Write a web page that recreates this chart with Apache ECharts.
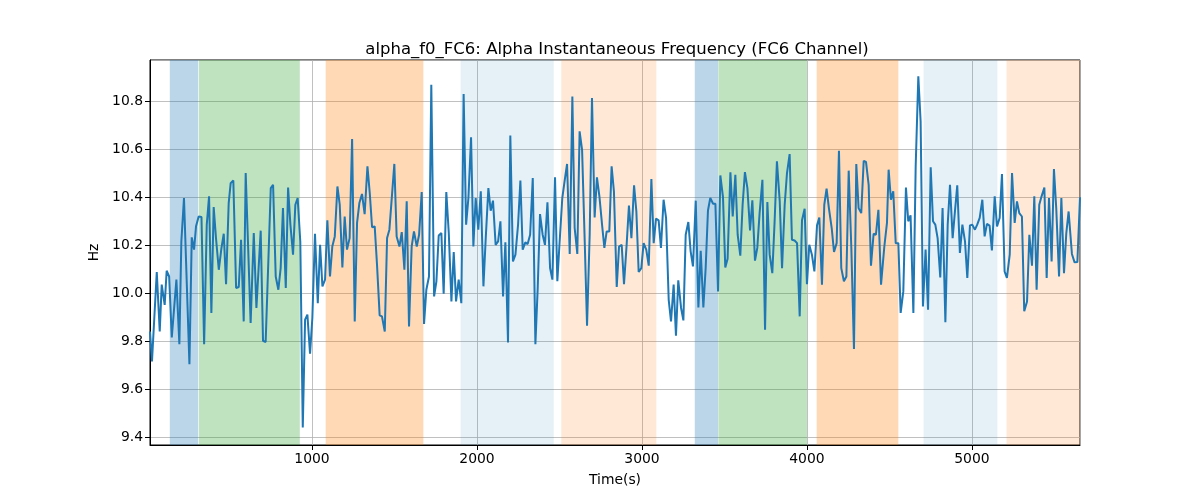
<!DOCTYPE html>
<html>
<head>
<meta charset="utf-8">
<script src="https://cdn.jsdelivr.net/npm/echarts@6/dist/echarts.min.js"></script>
<style>html,body{margin:0;padding:0;background:#fff;}#chart{width:1200px;height:500px;}</style>
</head>
<body>
<div id="chart"></div>
<script>
const times = [18,30,59,77,89,107,119,134,150,178,196,208,224,257,271,285,297,313,330,346,362,376,390,404,418,435,451,465,479,495,507,523,540,556,570,586,598,628,
647,663,689,703,719,750,764,780,796,810,824,841,855,869,885,899,913,929,944,958,972,988,1002,1018,1035,1049,1063,1079,1093,1109,1123,1138,1154,1168,1184,1198,1212,1228,1243,1259,
1273,1287,1303,1319,1336,1350,1364,1380,1394,1410,1424,1441,1455,1469,1485,1499,1513,1530,1544,1560,1574,1588,1604,1618,1635,1649,1665,1679,1693,1709,1723,1740,1754,1768,1784,1798,1814,1829,1845,1859,1873,1889,1905,
1919,1934,1948,1964,1978,1992,2008,2023,2039,2053,2069,2083,2097,2113,2128,2142,2158,2172,2188,2202,2218,2233,2249,2263,2277,2293,2307,2322,2338,2354,2368,2382,2398,2412,2427,2443,2457,2473,2487,2501,2517,2532,2546,
2562,2578,2592,2608,2622,2637,2653,2667,2683,2697,2713,2727,2742,2758,2772,2786,2802,2816,2830,2847,2861,2877,2891,2907,2921,2936,2952,2966,2980,2996,3010,3026,3041,3057,3071,3085,3101,3115,3131,3146,3162,3176,
3192,3206,3220,3237,3251,3265,3281,3295,3309,3326,3342,3356,3372,3386,3400,3414,3431,3445,3461,3475,3491,3505,3519,3536,3550,3566,3580,3596,3610,3624,3639,3655,3669,3685,3699,3713,3730,3746,3760,3774,3790,3804,3818,
3835,3849,3865,3879,3895,3909,3925,3940,3956,3970,3986,4000,4014,4030,4045,4061,4075,4091,4105,4119,4133,4150,4164,4180,4194,4208,4224,4239,4253,4269,4285,4299,4313,4329,4344,4358,4374,4388,4404,4418,4433,4449,
4469,4485,4495,4509,4523,4538,4554,4568,4584,4600,4614,4628,4645,4659,4675,4689,4703,4719,4734,4750,4764,4778,4792,4808,4822,4839,4853,4867,4883,4897,4911,4927,4942,4958,4972,4988,5002,5018,5032,5047,5063,5077,5091,
5107,5121,5138,5152,5168,5182,5198,5212,5229,5243,5259,5273,5287,5303,5317,5334,5348,5364,5378,5392,5408,5422,5439,5453,5467,5483,5497,5511,5528,5542,5558,5572,5586,5606,5622,5639,5655];

const values = [9.840,9.715,10.088,9.840,10.035,9.951,10.093,10.069,9.815,10.056,9.787,10.215,10.396,9.704,10.232,10.181,10.278,10.319,10.317,9.787,10.285,10.403,9.917,10.358,10.229,10.097,10.187,10.247,10.037,10.375,10.458,10.469,10.021,10.025,10.222,9.882,10.500,9.875,
10.250,9.938,10.260,9.801,9.796,10.437,10.451,10.069,10.014,10.104,10.354,10.021,10.440,10.285,10.160,10.368,10.396,10.215,9.440,9.889,9.910,9.747,9.896,10.247,9.958,10.201,10.028,10.056,10.303,10.069,10.194,10.236,10.444,10.368,10.107,10.319,10.181,10.229,10.642,9.882,
10.292,10.375,10.413,10.329,10.528,10.417,10.274,10.278,10.118,9.907,9.903,9.840,10.229,10.264,10.410,10.538,10.236,10.194,10.254,10.097,10.382,9.861,10.194,10.257,10.194,10.243,10.421,9.871,10.014,10.069,10.868,9.986,10.049,10.240,10.250,9.997,10.421,10.250,9.965,10.171,9.965,10.056,9.958,
10.829,10.285,10.396,10.649,10.194,10.396,10.264,10.424,10.028,10.229,10.437,10.343,10.385,10.201,10.215,10.299,9.986,10.212,9.794,10.656,10.132,10.160,10.285,10.469,10.181,10.211,10.204,10.243,10.479,9.787,10.021,10.329,10.243,10.201,10.378,10.104,10.056,10.482,10.049,10.215,10.396,10.472,10.538,
10.163,10.819,10.271,10.163,10.674,10.597,10.215,9.864,10.243,10.813,10.315,10.482,10.403,10.285,10.188,10.257,10.257,10.528,10.424,10.025,10.194,10.201,10.037,10.201,10.365,10.229,10.449,10.340,10.088,10.104,10.208,10.181,10.114,10.475,10.208,10.310,10.303,10.188,10.389,10.313,9.972,9.882,
10.035,9.822,10.053,9.938,9.886,10.243,10.296,10.174,10.111,10.385,9.940,10.176,9.940,10.104,10.344,10.396,10.372,10.372,10.007,10.490,10.400,10.107,10.143,10.503,10.319,10.493,10.243,10.156,10.368,10.504,10.437,10.261,10.386,10.135,10.188,10.333,10.472,9.847,10.379,10.160,10.083,10.299,10.549,
10.382,10.104,10.368,10.500,10.579,10.222,10.219,10.208,9.903,10.303,10.351,10.037,10.201,10.160,10.090,10.282,10.315,10.035,10.368,10.435,10.354,10.271,10.171,10.208,10.593,10.104,10.049,10.069,10.510,10.188,9.767,10.538,10.354,10.333,10.551,10.546,10.451,10.114,10.247,10.243,10.347,10.035,
10.194,10.292,10.514,10.389,10.424,10.208,10.208,9.917,10.007,10.440,10.299,10.324,9.917,10.528,10.903,10.715,9.944,10.181,9.931,10.524,10.299,10.285,10.229,10.065,10.354,9.878,10.285,10.451,10.229,10.340,10.449,10.167,10.285,10.215,10.063,10.282,10.285,10.264,10.285,10.313,10.389,10.236,10.288,
10.281,10.178,10.403,10.278,10.313,10.496,10.090,10.063,10.160,10.500,10.292,10.382,10.333,10.319,9.924,9.965,10.243,10.114,10.403,10.014,10.368,10.403,10.440,10.063,10.396,10.132,10.517,10.354,10.069,10.396,10.083,10.250,10.340,10.163,10.128,10.129,10.399];

const bandStarts = [138, 315, 1083, 1901, 2511, 3320, 3463, 4059, 4707, 5210];
const bandEnds   = [311, 926, 1675, 2465, 3087, 3461, 4000, 4554, 5154, 5655];
const bandKinds  = ['blue', 'green', 'orange', 'lightblue', 'lightorange', 'blue', 'green', 'orange', 'lightblue', 'lightorange'];

const xRange = [18, 5655];
const yRange = [9.367, 10.971];

const titleText = 'alpha_f0_FC6: Alpha Instantaneous Frequency (FC6 Channel)';
const xName = 'Time(s)';
const yName = 'Hz';

const bandColors = {
  blue: 'rgba(31,119,180,0.3)',
  green: 'rgba(44,160,44,0.3)',
  orange: 'rgba(255,127,14,0.3)',
  lightblue: 'rgba(31,119,180,0.11)',
  lightorange: 'rgba(255,127,14,0.17)'
};

const lineData = times.map((t, i) => [t, values[i]]);
const areas = bandStarts.map((s, i) => [
  { xAxis: s, itemStyle: { color: bandColors[bandKinds[i]] } },
  { xAxis: bandEnds[i] }
]);

const font = 'DejaVu Sans';
const chart = echarts.init(document.getElementById('chart'), null, { renderer: 'canvas' });
chart.setOption({
  animation: false,
  backgroundColor: '#fff',
  title: {
    text: titleText,
    left: 612, top: 36, textAlign: 'center',
    textStyle: { fontFamily: font, fontSize: 16.5, fontWeight: 'normal', color: '#000' }
  },
  grid: { left: 150, right: 120, top: 60, bottom: 55, show: true, borderColor: '#000', borderWidth: 1, backgroundColor: 'transparent' },
  xAxis: {
    type: 'value', min: xRange[0], max: xRange[1],
    minInterval: 1000, maxInterval: 1000,
    name: xName, nameLocation: 'middle', nameGap: 28,
    nameTextStyle: { fontFamily: font, fontSize: 13.9, color: '#000' },
    axisLine: { show: true, onZero: false, lineStyle: { color: '#000', width: 1 } },
    axisTick: { show: true, length: 5, lineStyle: { color: '#000' } },
    axisLabel: { showMinLabel: false, showMaxLabel: false, fontFamily: font, fontSize: 13.9, color: '#000', margin: 7,
      formatter: v => String(Math.round(v)) },
    splitLine: { show: true, lineStyle: { color: '#b0b0b0', width: 0.8 } }
  },
  yAxis: {
    type: 'value', min: yRange[0], max: yRange[1],
    minInterval: 0.2, maxInterval: 0.2,
    name: yName, nameLocation: 'middle', nameGap: 45, nameRotate: 90,
    nameTextStyle: { fontFamily: font, fontSize: 13.9, color: '#000' },
    axisLine: { show: true, onZero: false, lineStyle: { color: '#000', width: 1 } },
    axisTick: { show: true, length: 5, lineStyle: { color: '#000' } },
    axisLabel: { showMinLabel: false, showMaxLabel: false, fontFamily: font, fontSize: 13.9, color: '#000', margin: 7,
      formatter: v => v.toFixed(1) },
    splitLine: { show: true, lineStyle: { color: '#b0b0b0', width: 0.8 } }
  },
  series: [{
    type: 'line',
    data: lineData,
    showSymbol: false,
    lineStyle: { color: '#1f77b4', width: 2 },
    itemStyle: { color: '#1f77b4' },
    z: 5,
    markArea: { silent: true, data: areas }
  }]
});
</script>
</body>
</html>
